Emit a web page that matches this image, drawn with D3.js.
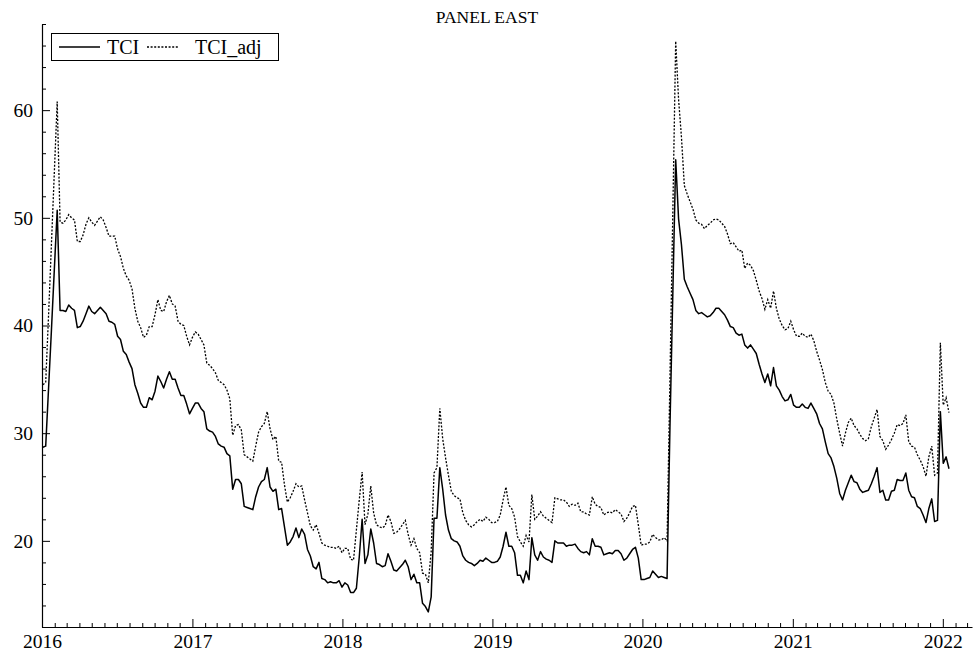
<!DOCTYPE html>
<html>
<head>
<meta charset="utf-8">
<script src="https://cdn.jsdelivr.net/npm/d3@7"></script>
<style>
  html, body { margin: 0; padding: 0; background: #fff; }
  svg { display: block; font-family: "Liberation Serif", "DejaVu Serif", serif; }
</style>
</head>
<body>
<svg id="chart" width="973" height="654"></svg>
<script>
// Weekly connectedness index, panel "EAST", first observation 3 Jan 2016
const startDate = new Date(2016, 0, 3);

const tci = [
  28.7, 28.8, 34.2, 39.6, 45.2, 50.7, 41.4, 41.4, 41.3, 41.9,
  41.6, 41.4, 39.8, 39.9, 40.4, 41.1, 41.8, 41.3, 41.1, 41.4,
  41.7, 41.4, 41.1, 40.4, 40.3, 40.1, 39.0, 38.7, 37.6, 37.3,
  36.6, 36.0, 34.5, 33.7, 32.8, 32.4, 32.4, 33.3, 33.1, 33.9,
  35.3, 34.8, 34.2, 35.0, 35.7, 35.0, 35.0, 34.2, 33.5, 33.5,
  32.7, 31.8, 32.3, 32.8, 32.8, 32.3, 32.0, 30.4, 30.2, 30.1,
  29.7, 29.0, 28.8, 28.7, 28.1, 27.9, 24.8, 25.7, 25.7, 25.3,
  23.2, 23.1, 23.0, 22.9, 24.1, 25.0, 25.5, 25.7, 26.8, 25.0,
  24.6, 24.8, 22.9, 23.0, 21.3, 19.6, 19.9, 20.4, 21.2, 20.3,
  21.1, 20.6, 19.2, 18.6, 17.6, 17.4, 18.0, 16.5, 16.4, 16.1,
  16.2, 16.1, 16.1, 16.3, 15.7, 16.1, 15.9, 15.2, 15.2, 15.6,
  18.5, 22.0, 17.9, 18.7, 21.1, 19.8, 17.9, 17.8, 17.6, 17.7,
  18.8, 18.1, 17.3, 17.2, 17.5, 17.8, 18.2, 17.6, 16.4, 16.9,
  16.1, 16.1, 14.2, 13.9, 13.4, 14.8, 22.1, 22.1, 26.8, 24.8,
  22.4, 21.0, 20.2, 20.0, 19.9, 19.5, 18.6, 18.2, 18.0, 17.9,
  17.7, 17.9, 18.2, 18.1, 18.4, 18.2, 18.0, 18.0, 18.1, 18.5,
  19.5, 20.8, 19.5, 19.5, 18.9, 16.8, 16.8, 16.1, 17.2, 16.4,
  20.3, 18.7, 18.2, 19.0, 18.5, 18.3, 18.2, 18.0, 20.0, 19.8,
  19.8, 19.8, 19.5, 19.6, 19.6, 19.7, 19.3, 19.0, 18.9, 19.0,
  18.7, 20.2, 19.5, 19.5, 19.4, 18.7, 18.8, 18.9, 18.8, 19.1,
  19.1, 18.8, 18.2, 18.4, 18.8, 19.2, 19.4, 18.4, 16.4, 16.4,
  16.5, 16.6, 17.2, 16.9, 16.6, 16.7, 16.6, 16.5, 30.5, 43.0,
  55.4, 49.9, 47.5, 44.3, 43.6, 43.0, 42.4, 41.4, 41.1, 41.2,
  41.0, 40.8, 40.9, 41.2, 41.6, 41.6, 41.3, 41.0, 40.5, 39.9,
  39.8, 39.3, 39.1, 39.2, 38.2, 37.9, 38.2, 37.8, 37.4, 36.4,
  35.5, 34.7, 35.5, 34.4, 36.1, 34.4, 34.0, 33.4, 33.0, 33.1,
  33.6, 32.6, 32.4, 32.4, 32.7, 32.4, 32.3, 32.8, 32.3, 31.8,
  30.9, 30.4, 29.2, 28.1, 27.7, 26.9, 25.8, 24.4, 23.8, 24.7,
  25.4, 26.1, 25.5, 25.4, 24.8, 24.5, 24.6, 24.7, 25.3, 26.0,
  26.8, 24.5, 24.7, 23.8, 23.8, 24.6, 24.7, 25.7, 25.6, 25.6,
  26.3, 24.7, 24.1, 24.0, 23.2, 23.0, 22.4, 21.7, 23.0, 23.9,
  21.8, 21.9, 32.0, 27.2, 27.8, 26.7
];

const tciAdj = [
  34.5, 34.7, 41.0, 47.6, 54.2, 60.8, 49.6, 49.5, 49.8, 50.3,
  50.0, 49.8, 47.8, 47.8, 48.4, 49.4, 50.0, 49.6, 49.3, 49.7,
  50.1, 49.8, 49.1, 48.3, 48.3, 48.3, 47.1, 46.4, 45.3, 44.6,
  44.2, 43.4, 41.6, 40.4, 39.8, 38.9, 39.1, 39.9, 39.9, 41.0,
  42.4, 41.4, 41.3, 42.2, 42.8, 42.0, 41.8, 40.4, 40.1, 40.0,
  39.0, 38.2, 38.9, 39.4, 39.2, 38.7, 38.2, 36.5, 36.3, 36.0,
  35.6, 34.9, 34.7, 34.5, 34.0, 33.2, 29.8, 30.7, 30.8, 30.3,
  28.0, 27.8, 27.6, 27.4, 28.8, 30.1, 30.6, 30.9, 32.0, 30.4,
  29.4, 29.7, 27.4, 27.3, 25.2, 23.6, 24.0, 24.6, 25.3, 25.0,
  25.1, 23.8, 22.6, 21.4, 21.0, 21.5, 20.7, 19.8, 19.6, 19.5,
  19.4, 19.4, 19.3, 19.5, 18.9, 19.3, 19.3, 18.3, 18.2, 21.0,
  23.8, 26.4, 21.5, 22.5, 25.1, 22.6, 21.5, 21.3, 21.2, 21.4,
  22.4, 21.8, 20.7, 20.8, 21.1, 21.5, 21.9, 20.6, 19.6, 20.2,
  19.3, 18.9, 17.0, 16.9, 16.1, 19.0, 26.3, 26.8, 32.3, 29.5,
  27.7, 26.1, 24.6, 24.2, 24.0, 23.9, 22.6, 21.9, 21.5, 21.3,
  21.5, 21.8, 22.0, 21.8, 22.2, 22.0, 21.7, 21.7, 21.8, 22.4,
  23.8, 25.0, 23.3, 23.0, 22.2, 20.4, 19.9, 19.5, 20.5, 19.9,
  24.3, 22.0, 22.3, 22.7, 22.3, 22.1, 21.9, 21.7, 24.0, 23.9,
  23.8, 23.8, 23.6, 23.2, 23.4, 23.3, 23.5, 22.7, 22.7, 22.5,
  22.4, 24.1, 23.4, 23.2, 23.1, 22.4, 22.6, 22.7, 22.6, 22.9,
  22.7, 22.5, 21.8, 22.1, 22.6, 23.2, 23.3, 21.5, 19.6, 19.7,
  19.7, 19.9, 20.6, 20.3, 20.1, 20.1, 20.3, 20.0, 35.0, 50.5,
  66.4, 61.0, 57.5, 53.0, 52.2, 51.5, 50.8, 49.8, 49.5, 49.4,
  49.0, 49.3, 49.5, 49.8, 49.9, 49.8, 49.5, 49.2, 48.5, 47.6,
  47.7, 47.3, 46.9, 47.0, 45.3, 45.8, 45.6, 45.1, 44.2, 43.2,
  42.5, 41.5, 42.4, 41.6, 43.2, 41.6, 40.6, 40.0, 39.6, 39.7,
  40.4, 39.6, 39.0, 39.0, 39.3, 39.0, 38.9, 39.2, 38.6, 37.6,
  36.8, 35.9, 34.7, 33.9, 33.6, 32.8, 31.3, 30.0, 28.8, 30.0,
  31.0, 31.4, 30.7, 30.4, 29.9, 29.5, 29.3, 29.5, 30.6, 31.4,
  32.2, 29.7, 29.3, 28.5, 28.9, 29.4, 30.0, 30.8, 30.7, 30.9,
  31.7, 29.2, 28.8, 28.7, 28.0, 27.5, 26.9, 26.0, 27.8, 28.8,
  26.1, 26.3, 38.4, 32.6, 33.3, 31.9
];

const seriesNames = ["TCI", "TCI_adj"];
const yearTicks = [2016, 2017, 2018, 2019, 2020, 2021, 2022];
const yMajorTicks = [20, 30, 40, 50, 60];
const chartTitle = "PANEL EAST";

const dates = tci.map((_, i) => d3.timeWeek.offset(startDate, i));

const svg = d3.select("#chart");
const plotLeft = 42, plotRight = 972, plotTop = 24, plotBottom = 627;

const x = d3.scaleTime()
  .domain([new Date(2016, 0, 1), new Date(2022, 2, 13)])
  .range([plotLeft, plotRight]);
const y = d3.scaleLinear().domain([12, 68]).range([plotBottom, plotTop]);

// title
svg.append("text")
  .attr("x", 487).attr("y", 23)
  .attr("text-anchor", "middle")
  .attr("font-size", 17.5)
  .text(chartTitle);

// x axis: monthly minor ticks, yearly major ticks, both pointing inwards
const monthTicks = d3.timeMonth.range(new Date(2016, 0, 1), new Date(2022, 2, 13))
  .filter(d => d.getMonth() !== 0);
const xMinor = d3.axisBottom(x).tickValues(monthTicks).tickSize(-4).tickSizeOuter(0).tickFormat("");
const xMajor = d3.axisBottom(x)
  .tickValues(yearTicks.map(yr => new Date(yr, 0, 1)))
  .tickSize(-8).tickSizeOuter(0).tickPadding(7)
  .tickFormat(d3.timeFormat("%Y"));

const gxMinor = svg.append("g").attr("transform", `translate(0,${plotBottom})`).call(xMinor);
gxMinor.select(".domain").remove();
const gx = svg.append("g").attr("transform", `translate(0,${plotBottom})`).call(xMajor);
gx.selectAll("text").attr("font-size", 19.5).attr("font-family", "Liberation Serif").attr("fill", "#000");

// y axis: minor ticks every 2, labelled majors every 10
const yMinorVals = d3.range(12, 69, 2).filter(v => !yMajorTicks.includes(v));
const yMinor = d3.axisLeft(y).tickValues(yMinorVals).tickSize(-4).tickSizeOuter(0).tickFormat("");
const yMajor = d3.axisLeft(y).tickValues(yMajorTicks).tickSize(-8).tickSizeOuter(0).tickPadding(9);

const gyMinor = svg.append("g").attr("transform", `translate(${plotLeft},0)`).call(yMinor);
gyMinor.select(".domain").remove();
const gy = svg.append("g").attr("transform", `translate(${plotLeft},0)`).call(yMajor);
gy.selectAll("text").attr("font-size", 19.5).attr("font-family", "Liberation Serif").attr("fill", "#000");

svg.selectAll(".tick line").attr("stroke", "#000").attr("stroke-width", 1);
svg.selectAll(".domain").attr("stroke", "#000").attr("stroke-width", 1.2);

// series lines
const line = d3.line()
  .x((d, i) => x(dates[i]))
  .y(d => y(d));

svg.append("path")
  .datum(tciAdj)
  .attr("fill", "none")
  .attr("stroke", "#000")
  .attr("stroke-width", 1.3)
  .attr("stroke-dasharray", "2,1.6")
  .attr("d", line);

svg.append("path")
  .datum(tci)
  .attr("fill", "none")
  .attr("stroke", "#000")
  .attr("stroke-width", 1.5)
  .attr("stroke-linejoin", "round")
  .attr("d", line);

// legend
const lg = svg.append("g");
lg.append("rect")
  .attr("x", 51.5).attr("y", 33.5).attr("width", 227).attr("height", 27)
  .attr("fill", "#fff").attr("stroke", "#000").attr("stroke-width", 1);
lg.append("line").attr("x1", 59).attr("x2", 100).attr("y1", 47).attr("y2", 47)
  .attr("stroke", "#000").attr("stroke-width", 1.5);
lg.append("text").attr("x", 107).attr("y", 54).attr("font-size", 20).text(seriesNames[0]);
lg.append("line").attr("x1", 147).attr("x2", 179).attr("y1", 47).attr("y2", 47)
  .attr("stroke", "#000").attr("stroke-width", 1.3).attr("stroke-dasharray", "2,1.6");
lg.append("text").attr("x", 195).attr("y", 54).attr("font-size", 20).text(seriesNames[1]);
</script>
</body>
</html>
